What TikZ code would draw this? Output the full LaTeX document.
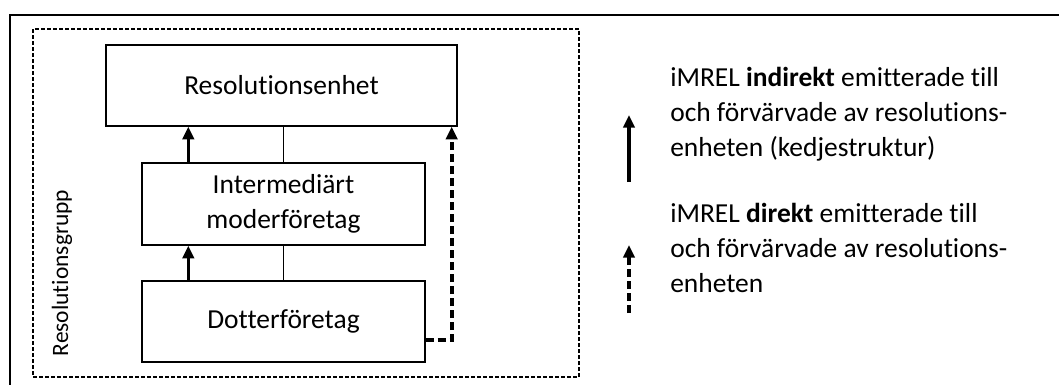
\documentclass[tikz,border=0pt]{standalone}
\usepackage{fontspec}
\setmainfont{Carlito}[RawFeature={-liga;-clig}]
\usetikzlibrary{arrows.meta,calc}
\newcommand\bigtxt{\fontsize{20.6pt}{26.3pt}\selectfont}
\newcommand\smalltxt{\fontsize{17.6pt}{21pt}\selectfont}
\begin{document}
\begin{tikzpicture}[x=0.75pt,y=-0.75pt,
  box/.style={draw,line width=1pt,inner sep=0pt,align=center,font=\bigtxt},
  grpbox/.style={draw,line width=0.8pt,dash pattern=on 3pt off 1.5pt,inner sep=0pt},
  thinline/.style={line width=0.8pt},
  solidarrow/.style={line width=2.5pt,-{Triangle[width=8.5pt,length=9.5pt]}},
  dasharrow/.style={line width=2.9pt,dash pattern=on 6pt off 3pt,-{Triangle[width=8.5pt,length=9.5pt]}},
  legend/.style={inner sep=0pt,align=left,font=\bigtxt}
]
\useasboundingbox (0,0) rectangle (1059,385);
\draw[line width=1.5pt] (1065,15) -- (10,15) -- (10,390);
\node[grpbox,minimum width=546*0.75pt,minimum height=348*0.75pt] (grp) at (306,203) {};
\node[rotate=90,anchor=base,font=\smalltxt,inner sep=0pt] (lbl) at (68,273) {Resolutionsgrupp};
\node[box,minimum width=351*0.75pt,minimum height=81*0.75pt] (R) at (281.5,85.5) {Resolutionsenhet};
\node[box,minimum width=283*0.75pt,minimum height=82*0.75pt] (I) at (283.5,204) {Intermediärt\\moderföretag};
\node[box,minimum width=283*0.75pt,minimum height=81*0.75pt] (D) at (283.5,321.5) {Dotterföretag};
\draw[thinline] (I.north) -- (I.north |- R.south);
\draw[thinline] (D.north) -- (D.north |- I.south);
\draw[solidarrow] ([xshift=47*0.75pt]I.north west) -- ([xshift=47*0.75pt]I.north west |- R.south);
\draw[solidarrow] ([xshift=47*0.75pt]D.north west) -- ([xshift=47*0.75pt]D.north west |- I.south);
\draw[dasharrow] ([yshift=-18.5*0.75pt]D.east) -| ([xshift=-6*0.75pt]R.south east);
\coordinate (a1s) at (629,182);
\coordinate (a1e) at (629,115);
\coordinate (a2s) at (629,313);
\coordinate (a2e) at (629,245);
\draw[solidarrow] (a1s) -- (a1e);
\draw[dasharrow] (a2s) -- (a2e);
\node[legend,anchor=north west] (t1) at (670,67) {iMREL \textbf{indirekt} emitterade till\\och förvärvade av resolutions-\\enheten (kedjestruktur)};
\node[legend,anchor=north west] (t2) at (670,203) {iMREL \textbf{direkt} emitterade till\\och förvärvade av resolutions-\\enheten};
\end{tikzpicture}
\end{document}
